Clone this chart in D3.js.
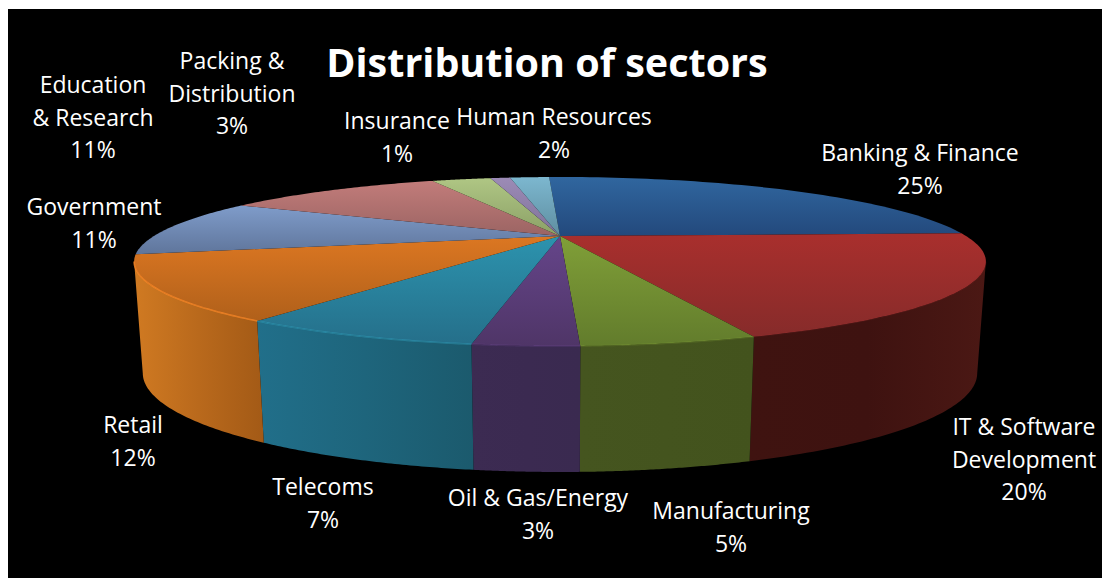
<!DOCTYPE html>
<html>
<head>
<meta charset="utf-8">
<script src="https://cdn.jsdelivr.net/npm/d3@7"></script>
<style>
  html, body { margin: 0; padding: 0; background: #fff; }
  svg { display: block; }
  text { font-family: "Open Sans", Lato, sans-serif; fill: #fff; }
</style>
</head>
<body>
<svg id="chart" width="1102" height="581"></svg>
<script>
// Sector shares, clockwise from twelve o'clock
const sectors = ["Banking & Finance", "IT & Software Development", "Manufacturing", "Oil & Gas/Energy",
                 "Telecoms", "Retail", "Government", "Education & Research",
                 "Packing & Distribution", "Insurance", "Human Resources"];
const shares = [25, 20, 5, 3, 7, 12, 11, 11, 3, 1, 2];

// Top-face shading: colour at the far edge of a slice, colour at its near edge
const topLight = ["#30669f", "#a92f2d", "#809f38", "#65458a", "#2c93ae", "#dc7722", "#7f9cca", "#c27c7a", "#afc684", "#9c8bb6", "#7cb7cf"];
const topDark  = ["#23497c", "#862b2a", "#627c2c", "#4f3567", "#256f8a", "#b0601a", "#5f759b", "#9b6463", "#8ba066", "#7e7299", "#5f8ea0"];
// Wall shading, left end, middle and right end of the visible wall of each slice
const wallLeft  = ["#30669f", "#3f1310", "#45551f", "#3c2b52", "#216f8a", "#d07a22", "#5f759b", "#9b6463", "#8ba066", "#7e7299", "#5f8ea0"];
const wallMid   = ["#30669f", "#3e1210", "#44541e", "#3b2a51", "#1e657c", "#b9691c", "#5f759b", "#9b6463", "#8ba066", "#7e7299", "#5f8ea0"];
const wallRight = ["#30669f", "#4b1814", "#43531d", "#3a2a50", "#1b5a6d", "#a35a16", "#5f759b", "#9b6463", "#8ba066", "#7e7299", "#5f8ea0"];

// Label blocks: lines of text and where each block is centred
const labelLines = [
  ["Banking & Finance", "25%"],
  ["IT & Software", "Development", "20%"],
  ["Manufacturing", "5%"],
  ["Oil & Gas/Energy", "3%"],
  ["Telecoms", "7%"],
  ["Retail", "12%"],
  ["Government", "11%"],
  ["Education", "& Research", "11%"],
  ["Packing &", "Distribution", "3%"],
  ["Insurance", "1%"],
  ["Human Resources", "2%"]
];
const labelX = [920, 1024, 731, 538, 323, 133, 94, 93, 232, 397, 554];
const labelY = [161, 435, 519, 506, 495, 433, 215, 93, 69, 129, 125];

const svg = d3.select("#chart");
const defs = svg.append("defs");

// Backdrop panel
svg.append("rect").attr("x", 8).attr("y", 9).attr("width", 1094).attr("height", 569).attr("fill", "#000");

// A perspective ring: the disc is tilted, so the near half spreads further than the far half
function ring(cx, cy, halfW, halfH, k) {
  return a => {
    const u = Math.sin(a), v = -Math.cos(a), d = 1 - k * v;
    return [cx + halfW * u / d, cy + halfH * v / d];
  };
}
const hub = [560, 236];
const topRing = ring(hub[0], hub[1], 406, 76.8, 0.302);
const baseRing = ring(560, 343.4, 398, 90, 0.3);

// Where the wall turns away from the viewer on each side
const wallFrom = Math.PI - Math.acos(0.302);
const wallTo = Math.PI + Math.acos(0.302);

// The first slice starts a touch before twelve o'clock
const rotation = -2 * Math.PI / 180;
const pie = d3.pie().sort(null).startAngle(rotation).endAngle(2 * Math.PI + rotation);
const arcs = pie(shares);

const line = d3.line();
const sweep = (f, a0, a1) => d3.range(0, 61).map(i => f(a0 + (a1 - a0) * i / 60));

const g = svg.append("g");

// Walls
arcs.forEach((d, i) => {
  const a0 = Math.max(d.startAngle, wallFrom), a1 = Math.min(d.endAngle, wallTo);
  if (a1 <= a0) return;
  const upper = sweep(topRing, a0, a1), lower = sweep(baseRing, a1, a0);
  const pts = upper.concat(lower);
  const xs = d3.extent(pts, p => p[0]);
  const id = "wall" + i;
  const grad = defs.append("linearGradient").attr("id", id).attr("gradientUnits", "userSpaceOnUse")
    .attr("x1", xs[0]).attr("x2", xs[1]).attr("y1", 0).attr("y2", 0);
  grad.append("stop").attr("offset", 0).attr("stop-color", wallLeft[i]);
  grad.append("stop").attr("offset", 0.5).attr("stop-color", wallMid[i]);
  grad.append("stop").attr("offset", 1).attr("stop-color", wallRight[i]);
  g.append("path").attr("d", line(pts) + "Z").attr("fill", `url(#${id})`);
});

// Top face
arcs.forEach((d, i) => {
  const pts = [hub].concat(sweep(topRing, d.startAngle, d.endAngle));
  const ys = d3.extent(pts, p => p[1]);
  const id = "top" + i;
  const grad = defs.append("linearGradient").attr("id", id).attr("gradientUnits", "userSpaceOnUse")
    .attr("x1", 0).attr("x2", 0).attr("y1", ys[0]).attr("y2", ys[1]);
  grad.append("stop").attr("offset", 0).attr("stop-color", topLight[i]);
  grad.append("stop").attr("offset", 1).attr("stop-color", topDark[i]);
  g.append("path").attr("d", line(pts) + "Z").attr("fill", `url(#${id})`);
});

// Bevel highlight along the near rim, strongest on the left
const rimFade = d3.scaleLinear().domain([wallFrom, Math.PI, wallTo]).range([0, 0.25, 1]);
arcs.forEach((d, i) => {
  const a0 = Math.max(d.startAngle, wallFrom), a1 = Math.min(d.endAngle, wallTo);
  if (a1 <= a0) return;
  g.append("path").attr("d", line(sweep(topRing, a0, a1))).attr("fill", "none")
    .attr("stroke", d3.color(topLight[i]).brighter(0.35)).attr("stroke-width", 1.6)
    .attr("stroke-opacity", rimFade((a0 + a1) / 2));
});

// Sector labels
const labelGap = 32.5;
svg.append("g").attr("text-anchor", "middle").attr("font-size", 23)
  .selectAll("text").data(sectors).join("text")
  .each(function (name, i) {
    const t = d3.select(this);
    labelLines[i].forEach((s, j) => {
      t.append("tspan").attr("x", labelX[i]).attr("y", labelY[i] + j * labelGap).text(s);
    });
  });

// Title
svg.append("text").attr("x", 547).attr("y", 77).attr("text-anchor", "middle")
  .attr("font-size", 39.5).attr("font-weight", 700).text("Distribution of sectors");
</script>
</body>
</html>
